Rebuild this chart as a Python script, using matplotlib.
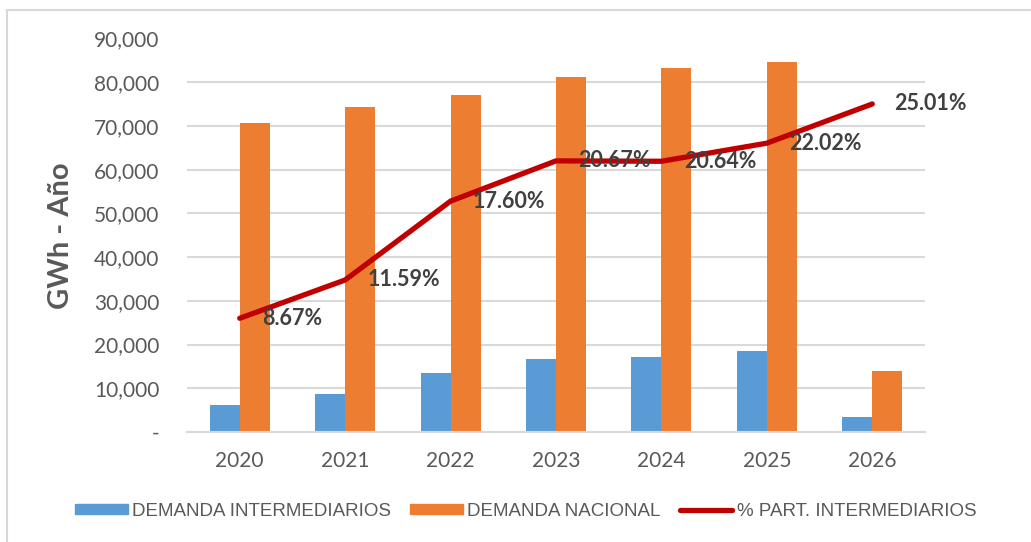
import matplotlib.pyplot as plt
from matplotlib.patches import Rectangle, Patch
from matplotlib.lines import Line2D
from matplotlib.ticker import FuncFormatter
import numpy as np

years = ['2020', '2021', '2022', '2023', '2024', '2025', '2026']
demanda_intermediarios = [6100, 8620, 13500, 16700, 17150, 18600, 3500]
demanda_nacional = [70600, 74300, 77000, 81200, 83250, 84560, 13950]
pct_intermediarios = [8.67, 11.59, 17.60, 20.67, 20.64, 22.02, 25.01]

BLUE = '#5b9bd5'
ORANGE = '#ed7d31'
RED = '#c00000'
GRID = '#d9d9d9'
TXT = '#595959'

fig = plt.figure(figsize=(10.31, 5.42), dpi=100)
fig.patches.append(Rectangle((7 / 1031, -0.1), 1.1, 1 - 10 / 542 + 0.1,
                             transform=fig.transFigure, fill=False,
                             edgecolor=GRID, lw=1.5))

ax = fig.add_axes([187 / 1031, 1 - 432 / 542, 738 / 1031, (432 - 38.5) / 542])
x = np.arange(len(years))
w = 0.285
ax.bar(x - w / 2, demanda_intermediarios, w, color=BLUE, zorder=2)
ax.bar(x + w / 2, demanda_nacional, w, color=ORANGE, zorder=2)

ax.set_xlim(-0.5, len(years) - 0.5)
ax.set_ylim(0, 90000)
ax.set_yticks(range(0, 90001, 10000))
ax.yaxis.set_major_formatter(FuncFormatter(lambda v, p: '-' if v == 0 else f'{int(v):,}'))
ax.set_xticks(x)
ax.set_xticklabels(years)
ax.grid(axis='y', color=GRID, lw=1.5, zorder=0)
for s in ['top', 'right', 'left']:
    ax.spines[s].set_visible(False)
ax.spines['bottom'].set_color(GRID)
ax.spines['bottom'].set_linewidth(1.5)
ax.tick_params(length=0, labelsize=15, labelcolor=TXT, pad=20)
ax.tick_params(axis='x', pad=14)
for lbl in ax.get_xticklabels() + ax.get_yticklabels():
    lbl.set_fontfamily('Lato')
ax.set_ylabel('GWh - Año', fontsize=21, fontweight='bold', color=TXT,
              family='Lato', labelpad=14)

ax2 = ax.twinx()
ax2.set_ylim(0, 30)
ax2.axis('off')
ax2.plot(x, pct_intermediarios, color=RED, lw=3.8, solid_capstyle='round',
         solid_joinstyle='round', zorder=3)
for xi, p in zip(x, pct_intermediarios):
    ax2.annotate(f'{p:.2f}%', (xi, p), xytext=(16, 0), textcoords='offset points',
                 ha='left', va='center', fontsize=15.5, fontweight='bold',
                 color='#404040', family='Lato')

handles = [Patch(color=BLUE), Patch(color=ORANGE),
           Line2D([], [], color=RED, lw=3.8, solid_capstyle='round')]
labels = ['DEMANDA INTERMEDIARIOS', 'DEMANDA NACIONAL', '% PART. INTERMEDIARIOS']
fig.legend(handles, labels, loc='center', bbox_to_anchor=(0.51, 1 - 511 / 542),
           ncol=3, frameon=False, prop={'family': 'Liberation Sans', 'size': 13.5},
           labelcolor=TXT, handlelength=2.8, handleheight=0.5,
           handletextpad=0.25, columnspacing=1.0)

fig.savefig('out.png', dpi=100)
